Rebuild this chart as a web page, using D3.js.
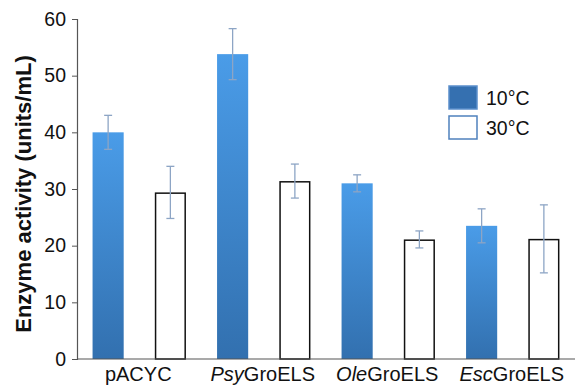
<!DOCTYPE html>
<html>
<head>
<meta charset="utf-8">
<script src="https://cdn.jsdelivr.net/npm/d3@7"></script>
<style>
  body { margin: 0; background: #fff; }
  svg { display: block; font-family: Arial, "Liberation Sans", sans-serif; }
</style>
</head>
<body>
<svg id="chart" width="575" height="386"></svg>
<script>
// Data
const categories = [
  { italic: "", rest: "pACYC" },
  { italic: "Psy", rest: "GroELS" },
  { italic: "Ole", rest: "GroELS" },
  { italic: "Esc", rest: "GroELS" }
];
const seriesNames = ["10°C", "30°C"];
const values10 = [40.0, 53.8, 31.0, 23.5];
const errors10 = [3.0, 4.5, 1.5, 3.0];
const values30 = [29.4, 31.4, 21.1, 21.2];
const errors30 = [4.6, 3.0, 1.5, 6.0];
const yTicks = [0, 10, 20, 30, 40, 50, 60];
const yTitle = "Enzyme activity (units/mL)";

const svg = d3.select("#chart");
const margin = { left: 77, right: 0, top: 19, bottom: 27 };
const W = 575, H = 386;

const x0 = d3.scaleBand().domain(d3.range(categories.length))
  .range([margin.left, W - margin.right]).padding(0);
const x1 = d3.scaleBand().domain([0, 1]).range([0, x0.bandwidth()])
  .paddingInner(0.5).paddingOuter(0.25);
const y = d3.scaleLinear().domain([0, 60]).range([H - margin.bottom, margin.top]);

const defs = svg.append("defs");
const grad = defs.append("linearGradient").attr("id", "blueGrad")
  .attr("x1", 0).attr("y1", 0).attr("x2", 0).attr("y2", 1);
grad.append("stop").attr("offset", "0%").attr("stop-color", "#4A9CE8");
grad.append("stop").attr("offset", "100%").attr("stop-color", "#3270AF");

const rows = categories.map((c, i) => [
  { cat: i, s: 0, v: values10[i], e: errors10[i] },
  { cat: i, s: 1, v: values30[i], e: errors30[i] }
]).flat();

// Bars
svg.append("g").selectAll("rect").data(rows).join("rect")
  .attr("x", d => x0(d.cat) + x1(d.s) + (d.s === 1 ? 0.75 : 0))
  .attr("y", d => y(d.v) + (d.s === 1 ? 0.75 : 0))
  .attr("width", d => x1.bandwidth() - (d.s === 1 ? 1.5 : 0))
  .attr("height", d => y(0) - y(d.v) - (d.s === 1 ? 0.75 : 0))
  .attr("fill", d => d.s === 0 ? "url(#blueGrad)" : "#fff")
  .attr("stroke", d => d.s === 0 ? "none" : "#111")
  .attr("stroke-width", 1.5);

// Error bars
const eg = svg.append("g").attr("stroke", "#8DA5C5").attr("stroke-width", 1.3).attr("fill", "none");
rows.forEach(d => {
  const cx = x0(d.cat) + x1(d.s) + x1.bandwidth() / 2;
  eg.append("line").attr("x1", cx).attr("x2", cx).attr("y1", y(d.v + d.e)).attr("y2", y(d.v - d.e));
  eg.append("line").attr("x1", cx - 4).attr("x2", cx + 4).attr("y1", y(d.v + d.e)).attr("y2", y(d.v + d.e));
  eg.append("line").attr("x1", cx - 4).attr("x2", cx + 4).attr("y1", y(d.v - d.e)).attr("y2", y(d.v - d.e));
});

// Y axis
const yAxis = svg.append("g").attr("transform", `translate(${margin.left},0)`)
  .call(d3.axisLeft(y).tickValues(yTicks).tickSize(5).tickPadding(6));
yAxis.select(".domain").attr("stroke", "#555").attr("stroke-width", 1.2);
yAxis.selectAll(".tick line").attr("stroke", "#555");
yAxis.selectAll(".tick text").attr("font-size", 19.5).attr("fill", "#111")
  .attr("font-family", "Arial, 'Liberation Sans', sans-serif");

// X axis line
svg.append("line").attr("x1", margin.left).attr("x2", W).attr("y1", y(0)).attr("y2", y(0))
  .attr("stroke", "#555").attr("stroke-width", 1.2);

// X labels
const xl = svg.append("g").selectAll("text").data(categories).join("text")
  .attr("x", (d, i) => x0(i) + x0.bandwidth() / 2 - 1)
  .attr("y", 381)
  .attr("text-anchor", "middle")
  .attr("font-size", 20)
  .attr("fill", "#111");
xl.append("tspan").attr("font-style", "italic").text(d => d.italic);
xl.append("tspan").text(d => d.rest);

// Y title
svg.append("text")
  .attr("transform", `translate(31,${(y(0) + y(60)) / 2 + 5}) rotate(-90)`)
  .attr("text-anchor", "middle")
  .attr("font-size", 22).attr("font-weight", "bold").attr("fill", "#111")
  .text(yTitle);

// Legend
const lg = svg.append("g");
const legendRows = [
  { name: seriesNames[0], fill: "#3570B0", stroke: "#5B8FCB", y: 86 },
  { name: seriesNames[1], fill: "#fff", stroke: "#4F81BD", y: 116 }
];
lg.selectAll("rect").data(legendRows).join("rect")
  .attr("x", 449).attr("y", d => d.y).attr("width", 28).attr("height", 23)
  .attr("fill", d => d.fill).attr("stroke", d => d.stroke).attr("stroke-width", 1.5);
lg.selectAll("text").data(legendRows).join("text")
  .attr("x", 486).attr("y", d => d.y + 19)
  .attr("font-size", 19.5).attr("fill", "#111")
  .text(d => d.name);
</script>
</body>
</html>
